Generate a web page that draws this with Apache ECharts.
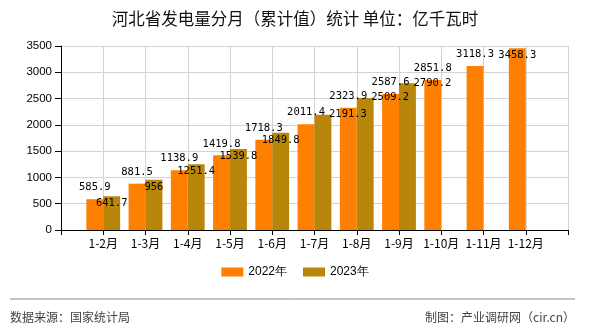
<!DOCTYPE html>
<html>
<head>
<meta charset="utf-8">
<script src="https://cdn.jsdelivr.net/npm/echarts@6/dist/echarts.min.js"></script>
<style>
html,body{margin:0;padding:0;background:#fff;}
#c{width:590px;height:330px;}
</style>
</head>
<body>
<div id="c"></div>
<script>
var months = ['1-2月','1-3月','1-4月','1-5月','1-6月','1-7月','1-8月','1-9月','1-10月','1-11月','1-12月'];
var values2022 = [585.9, 881.5, 1138.9, 1419.8, 1718.3, 2011.4, 2323.9, 2587.6, 2851.8, 3118.3, 3458.3];
var values2023 = [641.7, 956, 1251.4, 1539.8, 1849.8, 2191.3, 2509.2, 2790.2];
var yTicks = [0, 500, 1000, 1500, 2000, 2500, 3000, 3500];
var seriesNames = ['2022年', '2023年'];

// category axis with empty slots at both ends
var cats = [''].concat(months).concat(['']);

function build(vals, shiftIdx, insideIdx) {
  var out = ['-'];
  for (var i = 0; i < months.length; i++) {
    if (i < vals.length) {
      var item = { value: vals[i] };
      if (shiftIdx.indexOf(i) >= 0) item.label = { position: 'insideTop', distance: 2, offset: [25, -8] };
      if (insideIdx.indexOf(i) >= 0) item.label = { position: 'insideTop', distance: 2 };
      out.push(item);
    } else out.push('-');
  }
  out.push('-');
  return out;
}

var labelFont = { fontFamily: 'DejaVu Sans Mono', fontSize: 10.5, color: '#000' };

var chart = echarts.init(document.getElementById('c'), null, { renderer: 'canvas' });
chart.setOption({
  animation: false,
  backgroundColor: '#fff',
  textStyle: { fontFamily: 'Noto Sans CJK SC' },
  title: {
    text: '河北省发电量分月（累计值）统计 单位：亿千瓦时',
    left: 'center',
    top: 5,
    textStyle: { fontSize: 16.5, fontWeight: 'normal', color: '#111', fontFamily: 'Noto Sans CJK SC' }
  },
  grid: { left: 61, right: 22, top: 46, bottom: 100 },
  legend: {
    data: seriesNames,
    bottom: 47,
    left: 'center',
    itemWidth: 22,
    itemHeight: 9,
    itemGap: 16,
    icon: 'rect',
    textStyle: { fontSize: 12, color: '#000', fontFamily: 'Liberation Sans' }
  },
  xAxis: {
    type: 'category',
    data: cats,
    boundaryGap: false,
    axisLine: { lineStyle: { color: '#000', width: 1 } },
    axisTick: { show: true, length: 5, lineStyle: { color: '#000' } },
    axisLabel: { color: '#000', fontSize: 12, margin: 7, interval: 0, fontFamily: 'Noto Sans CJK SC' },
    splitLine: { show: true, lineStyle: { color: '#d3d3d3', width: 1 } }
  },
  yAxis: {
    type: 'value',
    min: yTicks[0],
    max: yTicks[yTicks.length - 1],
    interval: yTicks[1] - yTicks[0],
    axisLine: { show: true, lineStyle: { color: '#000', width: 1 } },
    axisTick: { show: true, length: 6, lineStyle: { color: '#000' } },
    axisLabel: { color: '#000', fontSize: 11.5, margin: 9, fontFamily: 'Liberation Sans', formatter: function (v) { return String(v); } },
    splitLine: { show: true, lineStyle: { color: '#d3d3d3', width: 1 } }
  },
  series: [
    {
      name: seriesNames[0],
      type: 'bar',
      data: build(values2022, [], [10]),
      barGap: '0%',
      barCategoryGap: '20%',
      itemStyle: { color: '#FF8000', borderRadius: 0 },
      label: Object.assign({ show: true, position: 'top', distance: 6 }, labelFont)
    },
    {
      name: seriesNames[1],
      type: 'bar',
      data: build(values2023, [5, 6, 7], []),
      barGap: '0%',
      barCategoryGap: '20%',
      itemStyle: { color: '#B8860B', borderRadius: 0 },
      label: Object.assign({ show: true, position: 'insideTop', distance: 2 }, labelFont)
    }
  ],
  graphic: [
    { type: 'line', shape: { x1: 10, y1: 299, x2: 575, y2: 299 }, style: { stroke: '#888', lineWidth: 1 } },
    { type: 'text', left: 10, top: 311, style: { text: '数据来源：国家统计局', fontSize: 12, fill: '#444', fontFamily: 'Noto Sans CJK SC' } },
    { type: 'text', right: 15, top: 311, style: { text: '制图：产业调研网（cir.cn）', fontSize: 12, fill: '#444', fontFamily: 'Noto Sans CJK SC' } }
  ]
});
</script>
</body>
</html>
